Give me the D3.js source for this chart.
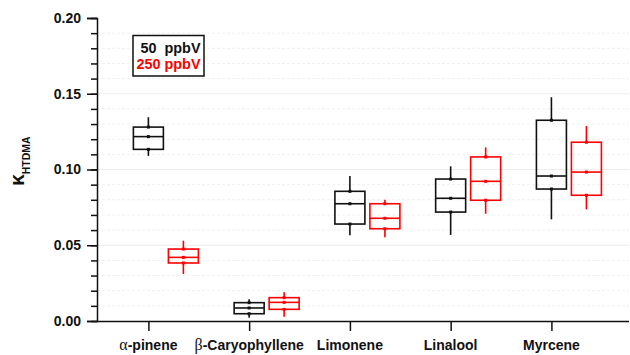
<!DOCTYPE html>
<html>
<head>
<meta charset="utf-8">
<script src="https://cdn.jsdelivr.net/npm/d3@7"></script>
<style>
  html, body { margin: 0; padding: 0; background: #fff; }
  svg { display: block; font-family: "Liberation Sans", Arial, sans-serif; }
</style>
</head>
<body>
<svg id="chart" width="630" height="355"></svg>
<script>
// Hygroscopicity (kappa from HTDMA) per precursor, at two mixing ratios
const categories = ["α-pinene", "β-Caryophyllene", "Limonene", "Linalool", "Myrcene"];

// 50 ppbV: whisker low, lower quartile, median, upper quartile, whisker high
const lo50  = [0.109, 0.0022, 0.0566, 0.0568, 0.0671];
const q1_50 = [0.1133, 0.0048, 0.0640, 0.0719, 0.0871];
const med50 = [0.1217, 0.0086, 0.0774, 0.0810, 0.0957];
const q3_50 = [0.1280, 0.0121, 0.0856, 0.0937, 0.1325];
const hi50  = [0.1345, 0.0143, 0.0957, 0.1021, 0.1477];

// 250 ppbV
const lo250  = [0.0310, 0.0028, 0.0552, 0.0708, 0.0737];
const q1_250 = [0.0383, 0.0077, 0.0609, 0.0797, 0.0830];
const med250 = [0.0420, 0.0123, 0.0678, 0.0922, 0.0983];
const q3_250 = [0.0475, 0.0154, 0.0774, 0.1083, 0.1180];
const hi250  = [0.0530, 0.0190, 0.0800, 0.1146, 0.1287];

const majorTicks = [0.00, 0.05, 0.10, 0.15, 0.20];
const minorTicks = d3.range(0, 21).map(i => i / 100);
const legendLabels = ["50  ppbV", "250 ppbV"];
const seriesColors = ["#111111", "#ff0000"];

const svg = d3.select("#chart");
const plotLeft = 97, plotRight = 629, plotTop = 18, plotBottom = 321;

const x = d3.scaleLinear().domain([-0.51, 4.77]).range([plotLeft, plotRight]);
const y = d3.scaleLinear().domain([0, 0.20]).range([plotBottom, plotTop]);

// light grid at every minor step
svg.append("g")
  .selectAll("line")
  .data(minorTicks.filter(v => v > 0 && v < 0.2))
  .join("line")
  .attr("x1", plotLeft).attr("x2", plotRight)
  .attr("y1", d => y(d)).attr("y2", d => y(d))
  .attr("stroke", d => (Math.round(d * 100) % 5 === 0) ? "#ececec" : "#f0f0f0")
  .attr("stroke-width", 1)
  .attr("stroke-dasharray", d => (Math.round(d * 100) % 5 === 0) ? null : "3,2");

// boxes
const series = [
  { lo: lo50, q1: q1_50, med: med50, q3: q3_50, hi: hi50, color: seriesColors[0], offset: 0 },
  { lo: lo250, q1: q1_250, med: med250, q3: q3_250, hi: hi250, color: seriesColors[1], offset: 35 }
];
const boxW = 30;

series.forEach(s => {
  const g = svg.append("g").attr("stroke", s.color).attr("fill", "none").attr("stroke-width", 1.6);
  categories.forEach((c, i) => {
    const cx = x(i) + s.offset;
    g.append("line").attr("x1", cx).attr("x2", cx).attr("y1", y(s.hi[i])).attr("y2", y(s.q3[i]));
    g.append("line").attr("x1", cx).attr("x2", cx).attr("y1", y(s.q1[i])).attr("y2", y(s.lo[i]));
    g.append("rect")
      .attr("x", cx - boxW / 2).attr("width", boxW)
      .attr("y", y(s.q3[i])).attr("height", y(s.q1[i]) - y(s.q3[i]));
    g.append("line").attr("x1", cx - boxW / 2).attr("x2", cx + boxW / 2)
      .attr("y1", y(s.med[i])).attr("y2", y(s.med[i]));
    [s.q3[i], s.med[i], s.q1[i]].forEach(v => {
      svg.append("rect").attr("x", cx - 1.5).attr("y", y(v) - 1.5)
        .attr("width", 3).attr("height", 3).attr("fill", s.color);
    });
  });
});

// y axis: major ticks with labels, minor ticks without
const yAxis = svg.append("g").attr("transform", `translate(${plotLeft},0)`)
  .call(d3.axisLeft(y).tickValues(majorTicks).tickSize(10).tickPadding(6).tickFormat(d3.format(".2f")));
svg.append("g").attr("transform", `translate(${plotLeft},0)`)
  .call(d3.axisLeft(y).tickValues(minorTicks).tickSize(6).tickFormat(""))
  .call(g => g.select(".domain").remove());
yAxis.selectAll("text").attr("font-size", 14).attr("font-weight", "bold").attr("fill", "#111")
  .attr("font-family", "'Liberation Sans', Arial, sans-serif");

// x axis
const xAxis = svg.append("g").attr("transform", `translate(0,${plotBottom})`)
  .call(d3.axisBottom(x).tickValues(d3.range(categories.length)).tickSize(10).tickSizeOuter(0).tickFormat(""));
xAxis.select(".domain").attr("d", `M${plotLeft},0.5H${plotRight}`);

svg.selectAll(".domain, .tick line").attr("stroke", "#111").attr("stroke-width", 1.5);

// category labels; Greek prefixes set in a serif face
const labG = svg.append("g").attr("font-size", 14).attr("font-weight", "bold").attr("fill", "#111");
categories.forEach((c, i) => {
  const t = labG.append("text").attr("x", x(i)).attr("y", 350).attr("text-anchor", "middle");
  const greek = /^[αβ]/.test(c);
  if (greek) {
    t.append("tspan").text(c[0])
      .attr("font-family", "'Liberation Serif', 'DejaVu Serif', serif")
      .attr("font-weight", "normal").attr("font-size", 16);
    t.append("tspan").text(c.slice(1));
  } else {
    t.text(c);
  }
});

// y axis title: kappa with HTDMA subscript
const yt = svg.append("text")
  .attr("transform", "translate(23.5,186) rotate(-90)")
  .attr("fill", "#111").attr("font-weight", "bold");
yt.append("tspan").text("κ").attr("font-size", 21);
yt.append("tspan").text("HTDMA").attr("font-size", 10.5).attr("dy", 6);

// legend
svg.append("rect").attr("x", 133).attr("y", 35.5).attr("width", 71).attr("height", 40.5)
  .attr("fill", "#fff").attr("stroke", "#111").attr("stroke-width", 1.5);
legendLabels.forEach((l, i) => {
  svg.append("text").attr("x", 200.5).attr("y", 53 + i * 16)
    .attr("text-anchor", "end").attr("font-size", 14.4).attr("font-weight", "bold")
    .attr("fill", seriesColors[i]).style("white-space", "pre").text(l);
});
</script>
</body>
</html>
